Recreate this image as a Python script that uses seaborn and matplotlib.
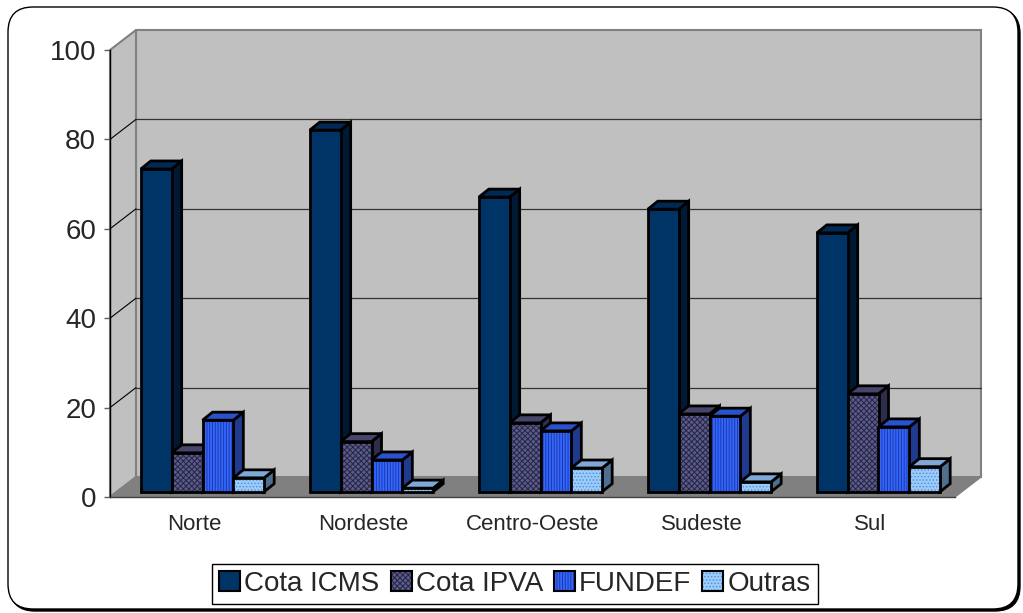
import numpy as np
import pandas as pd
import matplotlib
matplotlib.use('Agg')
import matplotlib.pyplot as plt
import matplotlib.patches as mpatches
import matplotlib.transforms as mtransforms
import seaborn as sns

regioes = ['Norte', 'Nordeste', 'Centro-Oeste', 'Sudeste', 'Sul']
tipos = ['Cota ICMS', 'Cota IPVA', 'FUNDEF', 'Outras']
cota_icms = [72.2, 80.9, 65.9, 63.2, 57.9]
cota_ipva = [8.7, 11.2, 15.4, 17.4, 21.9]
fundef = [16.0, 7.1, 13.6, 16.9, 14.5]
outras = [3.1, 0.8, 5.3, 2.2, 5.6]
yticks = [0, 20, 40, 60, 80, 100]

df = pd.DataFrame({'regiao': regioes * 4,
                   'tipo': np.repeat(tipos, 5),
                   'valor': cota_icms + cota_ipva + fundef + outras})

# frente, topo, lado, cor da hachura, hachura
estilo = {
    'Cota ICMS': ('#003366', '#002a55', '#001a33', '#003366', ''),
    'Cota IPVA': ('#5a5a90', '#45456e', '#2e2e4c', '#26263e', 'xxxxxx'),
    'FUNDEF':    ('#3366ff', '#2a52cc', '#1f3a8f', '#1c3aa6', '||||||'),
    'Outras':    ('#99ccff', '#7fa8d8', '#4f6f90', '#5f8fc8', '.....'),
}

sns.set_style('white')
plt.rcParams['font.family'] = ['Liberation Sans', 'DejaVu Sans']
plt.rcParams['hatch.linewidth'] = 0.7

# layout em pixels da imagem (plano da frente)
W, H = 1023, 613
FX0, FX1, FY0, FY1 = 110, 955, 497, 50
px_x = (FX1 - FX0) / 5
px_y = (FY0 - FY1) / 100

fig = plt.figure(figsize=(W / 100, H / 100), dpi=100)
ax = fig.add_axes([(FX0 + 8) / W, (H - FY0 + 5.3) / H, (FX1 - FX0) / W, (FY0 - FY1) / H])
axf = fig.add_axes([FX0 / W, (H - FY0) / H, (FX1 - FX0) / W, (FY0 - FY1) / H])

sns.barplot(df, x='regiao', y='valor', hue='tipo', order=regioes, hue_order=tipos,
            palette={t: estilo[t][0] for t in tipos}, saturation=1, width=0.73,
            errorbar=None, legend=False, ax=ax)
ax.set_xlim(-0.5, 4.5)
ax.set_ylim(0, 100)
ax.set_axis_off()
barras = [(p, tipos[k // 5]) for k, p in enumerate(list(ax.patches))]
barras.sort(key=lambda t: t[0].get_x())

# deslocamentos (em unidades de dados) para o efeito 3D
fx, fy = -8 / px_x, -5.3 / px_y
bx, by = 18 / px_x, 14.7 / px_y
tx, ty = 10 / px_x, 8 / px_y


def poly(pts, **kw):
    ax.add_patch(mpatches.Polygon(pts, closed=True, clip_on=False, **kw))


poly([(-0.5 + bx, by), (4.5 + bx, by), (4.5 + bx, 100 + by), (-0.5 + bx, 100 + by)],
     fc='#c0c0c0', ec='#808080', lw=1.5, zorder=0.5)
poly([(-0.5 + fx, fy), (-0.5 + fx, 100 + fy), (-0.5 + bx, 100 + by), (-0.5 + bx, by)],
     fc='#c0c0c0', ec='#808080', lw=1.5, zorder=0.6)
poly([(-0.5 + fx, fy), (4.5 + fx, fy), (4.5 + bx, by), (-0.5 + bx, by)],
     fc='#808080', ec='#808080', lw=1, zorder=0.7)
for v in yticks[1:-1]:
    ax.plot([-0.5 + bx, 4.5 + bx], [v + by] * 2, color='#333333', lw=0.9, zorder=0.8, clip_on=False)
    ax.plot([-0.5 + fx, -0.5 + bx], [v + fy, v + by], color='black', lw=0.8, zorder=0.8, clip_on=False)

for i, (p, tipo) in enumerate(barras):
    frente, topo, lado, cor_hatch, hatch = estilo[tipo]
    x0, w, h = p.get_x(), p.get_width(), p.get_height()
    z = 2 + i * 0.01
    poly([(x0 + w, 0), (x0 + w + tx, ty), (x0 + w + tx, h + ty), (x0 + w, h)],
         fc=lado, ec='black', lw=2, zorder=z)
    poly([(x0, h), (x0 + w, h), (x0 + w + tx, h + ty), (x0 + tx, h + ty)],
         fc=topo, ec='black', lw=2, zorder=z)
    p.set_zorder(z + 0.001)
    p.set_hatch(hatch)
    p.set_edgecolor(cor_hatch)
    p.set_linewidth(0)
    ax.add_patch(mpatches.Rectangle((x0, 0), w, h, fill=False, ec='black', lw=2,
                                    zorder=z + 0.002, clip_on=False))

# eixo da frente
axf.set_xlim(-0.5, 4.5)
axf.set_ylim(0, 100)
axf.patch.set_visible(False)
for s in ['top', 'right']:
    axf.spines[s].set_visible(False)
axf.spines['left'].set_color('black')
axf.spines['left'].set_linewidth(1)
axf.spines['bottom'].set_color('#404040')
axf.spines['bottom'].set_linewidth(1)
axf.set_yticks(yticks)
axf.set_yticklabels([str(v) for v in yticks], fontsize=20)
axf.set_xticks(range(5))
axf.set_xticklabels(regioes, fontsize=16)
axf.set_xticks(np.arange(-0.5, 5, 1), minor=True)
axf.tick_params(axis='x', which='major', length=0, pad=12)
axf.tick_params(axis='x', which='minor', length=5, color='#404040', width=1, direction='out')
axf.tick_params(axis='y', length=4, color='#606060', width=1, pad=6, direction='out', left=True)

# legenda
handles = [(mpatches.Patch(fc=estilo[t][0], hatch=estilo[t][4], ec=estilo[t][3], lw=0),
            mpatches.Patch(fill=False, ec='black', lw=1.5)) for t in tipos]
leg = fig.legend(handles, tipos, loc='center', bbox_to_anchor=(515 / W, 1 - 584 / H), ncol=4,
                 fontsize=20, frameon=True, fancybox=False, edgecolor='black', framealpha=1,
                 borderpad=0.25, handlelength=0.75, handleheight=0.75, handletextpad=0.15,
                 columnspacing=0.4, borderaxespad=0)
leg.get_frame().set_linewidth(1)

# moldura arredondada
ident = mtransforms.IdentityTransform()
sombra = mpatches.FancyBboxPatch((10, 2), 1010, 602, boxstyle='round,pad=0,rounding_size=25',
                                 fc='black', ec='black', lw=1, transform=ident, zorder=-2)
moldura = mpatches.FancyBboxPatch((8, 4), 1010, 602, boxstyle='round,pad=0,rounding_size=25',
                                  fc='white', ec='black', lw=1, transform=ident, zorder=-1)
fig.add_artist(sombra)
fig.add_artist(moldura)

fig.savefig('out.png', dpi=100, facecolor='white')
